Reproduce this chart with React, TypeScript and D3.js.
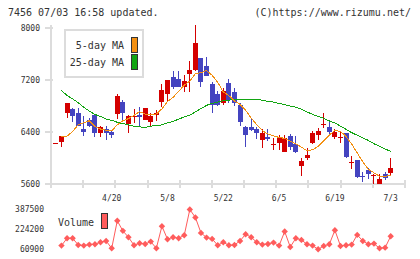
import React, { useEffect, useRef } from 'react'
import * as d3 from 'd3'

// trading days, 2020-04-06 .. 2020-07-03
const dates = [
  '4/6', '4/7', '4/8', '4/9', '4/10', '4/13', '4/14', '4/15', '4/16', '4/17',
  '4/20', '4/21', '4/22', '4/23', '4/24', '4/27', '4/28', '4/30', '5/1', '5/7',
  '5/8', '5/11', '5/12', '5/13', '5/14', '5/15', '5/18', '5/19', '5/20', '5/21',
  '5/22', '5/25', '5/26', '5/27', '5/28', '5/29', '6/1', '6/2', '6/3', '6/4',
  '6/5', '6/8', '6/9', '6/10', '6/11', '6/12', '6/15', '6/16', '6/17', '6/18',
  '6/19', '6/22', '6/23', '6/24', '6/25', '6/26', '6/29', '6/30', '7/1', '7/2',
  '7/3',
]

const dateLabels = ['4/20', '5/8', '5/22', '6/5', '6/19', '7/3']

const opens = [
  6230, 6250, 6690, 6750, 6700, 6440, 6590, 6660, 6380, 6450,
  6400, 6670, 6860, 6530, 6630, 6660, 6590, 6550, 6660, 6860,
  6990, 7240, 7210, 7090, 7290, 7350, 7540, 7410, 7140, 6990,
  6850, 7150, 7010, 6810, 6480, 6480, 6440, 6280, 6320, 6200,
  6230, 6090, 6340, 6220, 5880, 6000, 6230, 6360, 6510, 6470,
  6320, 6310, 6380, 5930, 5970, 5730, 5810, 5730, 5600, 5760,
  5770,
]
const highs = [
  6230, 6340, 6840, 6770, 6770, 6640, 6610, 6670, 6490, 6500,
  6430, 6980, 6890, 6660, 6750, 6780, 6770, 6690, 6740, 7140,
  7200, 7340, 7340, 7280, 7490, 8040, 7540, 7550, 7170, 7030,
  7080, 7220, 7080, 6840, 6500, 6610, 6480, 6440, 6440, 6310,
  6350, 6350, 6370, 6340, 6000, 6150, 6410, 6460, 6700, 6590,
  6450, 6400, 6390, 6030, 5970, 5790, 5840, 5760, 5750, 5780,
  6000,
]
const lows = [
  6230, 6170, 6610, 6550, 6490, 6340, 6480, 6320, 6330, 6270,
  6310, 6600, 6580, 6380, 6540, 6490, 6580, 6480, 6570, 6780,
  6860, 7060, 7090, 7010, 7020, 7340, 7090, 7260, 6690, 6800,
  6810, 6850, 6800, 6500, 6170, 6420, 6290, 6150, 6260, 6120,
  6130, 6090, 6120, 6080, 5720, 5970, 6220, 6280, 6460, 6370,
  6300, 6230, 6000, 5830, 5690, 5630, 5680, 5600, 5600, 5660,
  5730,
]
const closes = [
  6230, 6340, 6840, 6650, 6490, 6400, 6490, 6380, 6470, 6390,
  6360, 6950, 6690, 6640, 6650, 6630, 6770, 6640, 6700, 7040,
  7200, 7090, 7090, 7180, 7350, 7770, 7170, 7260, 6810, 6810,
  7030, 6890, 6840, 6560, 6350, 6430, 6380, 6390, 6290, 6210,
  6310, 6310, 6170, 6090, 5950, 6040, 6390, 6410, 6520, 6400,
  6400, 6320, 6020, 5940, 5710, 5720, 5750, 5740, 5670, 5690,
  5840,
]

const ma5 = [
  null, 6330, 6335, 6410, 6510, 6544, 6574, 6482, 6446, 6426,
  6418, 6510, 6572, 6606, 6658, 6712, 6676, 6666, 6678, 6756,
  6870, 6934, 7024, 7120, 7182, 7296, 7312, 7346, 7272, 7164,
  7016, 6960, 6876, 6826, 6734, 6614, 6512, 6422, 6368, 6340,
  6316, 6302, 6258, 6218, 6166, 6112, 6128, 6176, 6262, 6352,
  6424, 6410, 6332, 6216, 6078, 5942, 5828, 5772, 5718, 5714,
  5738,
]
const ma25 = [
  null, 7040, 6960, 6910, 6850, 6780, 6720, 6670, 6640, 6600,
  6580, 6550, 6530, 6510, 6490, 6480, 6470, 6490, 6500, 6510,
  6540, 6560, 6600, 6630, 6660, 6710, 6760, 6810, 6840, 6860,
  6880, 6890, 6900, 6900, 6900, 6900, 6900, 6890, 6870, 6860,
  6840, 6820, 6800, 6780, 6750, 6710, 6670, 6640, 6610, 6570,
  6540, 6490, 6440, 6390, 6350, 6310, 6270, 6220, 6180, 6140,
  6100,
]

const volumes = [
  null, 91100, 151600, 151600, 96600, 91100, 99400, 102100, 118600, 129600,
  69100, 294600, 212100, 159900, 93900, 110400, 104900, 124100, 69100, 250600,
  143400, 159900, 151600, 176400, 387500, 322100, 195600, 157100, 146100, 93900,
  118600, 93900, 96600, 129600, 184600, 159900, 118600, 99400, 104900, 115900,
  91100, 206600, 80100, 151600, 137900, 102100, 91100, 60900, 88400, 102100,
  217600, 88400, 93900, 99400, 179100, 129600, 102100, 107600, 69100, 74600,
  168100,
]

const priceTicks = [5600, 6400, 7200, 8000]
const volumeTicks = [60900, 224200, 387500]

const FONT = '"DejaVu Sans Mono", monospace'
const UP = '#d40000'
const DOWN = '#4444c0'
const MA5_COLOR = '#f39012'
const MA25_COLOR = '#12a512'
const VOL_COLOR = '#ff5c5c'
const AXIS = '#dcdcdc'
const TEXT = '#333'

export default function App() {
  const svgRef = useRef<SVGSVGElement>(null)

  useEffect(() => {
    if (!svgRef.current) return
    const svg = d3.select(svgRef.current)
    svg.selectAll('*').remove()

    const left = 51
    const right = 405
    const bottom = 184

    const x = d3.scaleLinear().domain([0, dates.length - 1]).range([55.9, 390.7])
    const y = d3.scaleLinear().domain([5600, 8000]).range([184, 28])
    const yVol = d3.scaleLinear().domain([60900, 387500]).range([249.3, 209.5])

    // header
    svg.append('text')
      .attr('x', 8).attr('y', 16)
      .attr('font-family', FONT).attr('font-size', 10).attr('fill', TEXT)
      .text('7456 07/03 16:58 updated.')
    svg.append('text')
      .attr('x', 411).attr('y', 16).attr('text-anchor', 'end')
      .attr('font-family', FONT).attr('font-size', 10).attr('fill', TEXT)
      .text('(C)https://www.rizumu.net/')

    // axes frame
    const axes = svg.append('g')
      .attr('stroke', AXIS).attr('stroke-width', 2).attr('shape-rendering', 'crispEdges')
    axes.append('line').attr('x1', left).attr('x2', left).attr('y1', 25).attr('y2', 188)
    axes.append('line').attr('x1', 45).attr('x2', right + 1).attr('y1', bottom).attr('y2', bottom)
    axes.selectAll('.ytick')
      .data(priceTicks)
      .join('line')
      .attr('x1', 45).attr('x2', 53)
      .attr('y1', (d) => y(d)).attr('y2', (d) => y(d))
    axes.selectAll('.xtick')
      .data(d3.range(1, 12))
      .join('line')
      .attr('x1', (k) => left + (k * (right - left)) / 11)
      .attr('x2', (k) => left + (k * (right - left)) / 11)
      .attr('y1', 180).attr('y2', 188)

    svg.append('g')
      .selectAll('text')
      .data(priceTicks)
      .join('text')
      .attr('x', 40).attr('y', (d) => y(d)).attr('dy', '0.35em')
      .attr('text-anchor', 'end')
      .attr('font-family', FONT).attr('font-size', 8).attr('fill', TEXT)
      .text((d) => d)

    svg.append('g')
      .selectAll('text')
      .data(dateLabels)
      .join('text')
      .attr('x', (d) => x(dates.indexOf(d)))
      .attr('y', 201)
      .attr('text-anchor', 'middle')
      .attr('font-family', FONT).attr('font-size', 8).attr('fill', TEXT)
      .text((d) => d)

    // candlesticks
    const idx = d3.range(dates.length)
    const candles = svg.append('g').attr('shape-rendering', 'crispEdges')
      .selectAll('g')
      .data(idx)
      .join('g')
      .attr('fill', (i) => (closes[i] >= opens[i] ? UP : DOWN))
      .attr('stroke', (i) => (closes[i] >= opens[i] ? UP : DOWN))

    candles.append('line')
      .attr('x1', (i) => x(i)).attr('x2', (i) => x(i))
      .attr('y1', (i) => y(highs[i])).attr('y2', (i) => y(lows[i]))
      .attr('stroke-width', 1)

    candles.append('rect')
      .attr('x', (i) => x(i) - 2.5)
      .attr('width', 5)
      .attr('y', (i) => y(Math.max(opens[i], closes[i])))
      .attr('height', (i) => Math.max(1, Math.abs(y(opens[i]) - y(closes[i]))))
      .attr('stroke', 'none')

    // moving averages
    const maLine = d3.line<number | null>()
      .defined((d) => d != null)
      .x((_, i) => x(i))
      .y((d) => y(d as number))

    svg.append('path')
      .datum(ma25)
      .attr('fill', 'none').attr('stroke', MA25_COLOR).attr('stroke-width', 1)
      .attr('shape-rendering', 'crispEdges')
      .attr('d', maLine)
    svg.append('path')
      .datum(ma5)
      .attr('fill', 'none').attr('stroke', MA5_COLOR).attr('stroke-width', 1)
      .attr('shape-rendering', 'crispEdges')
      .attr('d', maLine)

    // legend
    const legend = svg.append('g')
    legend.append('rect')
      .attr('x', 65).attr('y', 30).attr('width', 78).attr('height', 47)
      .attr('fill', '#fff').attr('stroke', AXIS).attr('stroke-width', 2)
      .attr('shape-rendering', 'crispEdges')
    const legendItems = [
      { label: '5-day MA', color: MA5_COLOR },
      { label: '25-day MA', color: MA25_COLOR },
    ]
    legendItems.forEach((d, k) => {
      const cy = 45 + k * 17
      legend.append('text')
        .attr('x', 124).attr('y', cy).attr('dy', '0.35em')
        .attr('text-anchor', 'end')
        .attr('font-family', FONT).attr('font-size', 10).attr('fill', TEXT)
        .text(d.label)
      legend.append('rect')
        .attr('x', 131.5).attr('y', cy - 7.5).attr('width', 5.5).attr('height', 14.5)
        .attr('fill', d.color).attr('stroke', TEXT).attr('stroke-width', 1)
        .attr('shape-rendering', 'crispEdges')
    })

    // volume
    svg.append('g')
      .selectAll('text')
      .data(volumeTicks)
      .join('text')
      .attr('x', 44).attr('y', (d) => yVol(d)).attr('dy', '0.35em')
      .attr('text-anchor', 'end')
      .attr('font-family', FONT).attr('font-size', 8).attr('fill', TEXT)
      .text((d) => d)

    svg.append('text')
      .attr('x', 58).attr('y', 222).attr('dy', '0.35em')
      .attr('font-family', FONT).attr('font-size', 10).attr('fill', TEXT)
      .text('Volume')
    svg.append('rect')
      .attr('x', 101.5).attr('y', 213.5).attr('width', 5.5).attr('height', 14.5)
      .attr('fill', VOL_COLOR).attr('stroke', TEXT).attr('stroke-width', 1)
      .attr('shape-rendering', 'crispEdges')

    const volLine = d3.line<number | null>()
      .defined((d) => d != null)
      .x((_, i) => x(i))
      .y((d) => yVol(d as number))

    svg.append('path')
      .datum(volumes)
      .attr('fill', 'none').attr('stroke', VOL_COLOR).attr('stroke-width', 1)
      .attr('d', volLine)

    svg.append('g')
      .selectAll('path')
      .data(idx.filter((i) => volumes[i] != null))
      .join('path')
      .attr('d', (i) => {
        const cx = x(i)
        const cy = yVol(volumes[i] as number)
        return `M${cx},${cy - 3.2}L${cx + 3.2},${cy}L${cx},${cy + 3.2}L${cx - 3.2},${cy}Z`
      })
      .attr('fill', VOL_COLOR)
  }, [])

  return (
    <svg
      ref={svgRef}
      width={420}
      height={259}
      style={{ position: 'absolute', left: 0, top: 0, background: '#fff' }}
    />
  )
}
